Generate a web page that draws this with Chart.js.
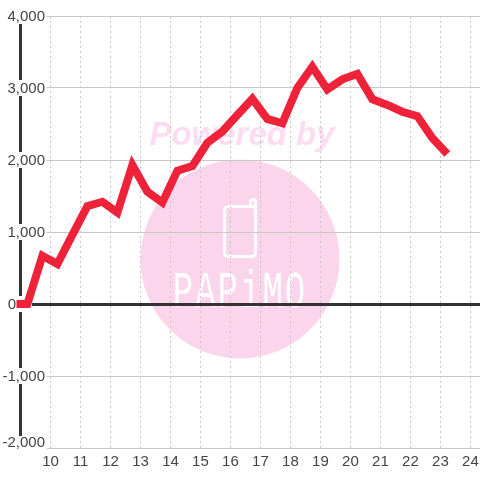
<!DOCTYPE html>
<html>
<head>
<meta charset="utf-8">
<script src="https://cdn.jsdelivr.net/npm/chart.js@4/dist/chart.umd.min.js"></script>
<style>
  html, body { margin: 0; padding: 0; background: #fff; }
  canvas { display: block; }
</style>
</head>
<body>
<canvas id="grafica" width="480" height="480"></canvas>
<script>
const years = [8.73, 9.23, 9.73, 10.23, 10.73, 11.23, 11.73, 12.23, 12.73, 13.23, 13.73, 14.23, 14.73, 15.23, 15.73, 16.23,
  16.73, 17.23, 17.73, 18.23, 18.73, 19.23, 19.73, 20.23, 20.73, 21.23, 21.73, 22.23, 22.73, 23.23];
const values = [0, 0, 670, 555, 960, 1360, 1420, 1270, 1930, 1560, 1410, 1850, 1915, 2240, 2395, 2625,
  2850, 2570, 2510, 3000, 3295, 2980, 3120, 3195, 2845, 2765, 2670, 2610, 2305, 2085];
const watermarkTop = 'Powered by';
const watermarkName = 'PAPiMO';

// watermark goes under the grid
const marca = {
  id: 'marca',
  beforeDraw(chart) {
    const c = chart.ctx;
    c.save();
    c.fillStyle = '#fbd5ec';
    c.beginPath();
    c.arc(240, 259, 99.5, 0, Math.PI * 2);
    c.fill();

    c.fillStyle = '#fcdcf0';
    c.font = 'italic bold 33px "Liberation Sans"';
    c.textAlign = 'center';
    c.textBaseline = 'alphabetic';
    c.fillText(watermarkTop, 242, 145);

    // phone
    c.strokeStyle = '#fff';
    c.lineWidth = 3;
    c.lineJoin = 'round';
    c.beginPath();
    c.roundRect(224.5, 206.5, 31, 50, 4);
    c.moveTo(250.5, 206.5);
    c.lineTo(250.5, 202);
    c.arc(253, 202, 2.5, Math.PI, 0);
    c.lineTo(255.5, 212);
    c.stroke();

    c.fillStyle = '#fff';
    c.font = '34px "Liberation Mono"';
    c.letterSpacing = '2px';
    c.textAlign = 'center';
    c.translate(240, 307);
    c.scale(1, 1.5);
    c.fillText(watermarkName, 0, 0);
    c.restore();
  }
};

// the "0" and "-2,000" labels don't sit where the others do
// backdrop coords are relative to the label's translation
const moverEtiquetas = {
  id: 'moverEtiquetas',
  beforeDraw(chart) {
    for (const it of chart.scales.y.getLabelItems()) {
      if (it.movida) continue;
      it.movida = true;
      const o = it.options;
      o.translation[1] += 1;
      o.backdrop.top -= 1;
      if (it.label === '-2,000') {
        o.translation[1] -= 6.5;
        o.backdrop.top = 436 - o.translation[1];
        o.backdrop.height = 14;
      }
      if (it.label === '0') {
        o.translation[0] = 16;
        o.backdrop.left = -16;
        o.backdrop.width = 32;
      }
    }
  }
};

const sinRelleno = s => { s.paddingLeft = 0; s.paddingRight = 0; s.paddingTop = 0; s.paddingBottom = 0; };

const ctx = document.getElementById('grafica').getContext('2d');
new Chart(ctx, {
  type: 'line',
  data: {
    datasets: [{
      data: years.map((y, i) => ({ x: y, y: values[i] })),
      borderColor: '#ee2238',
      borderWidth: 8,
      clip: 4,
      pointRadius: 0,
      tension: 0,
      fill: false
    }]
  },
  options: {
    animation: false,
    responsive: false,
    layout: { padding: { left: 20.5, right: 0, top: 16, bottom: 4 } },
    plugins: { legend: { display: false }, tooltip: { enabled: false } },
    scales: {
      x: {
        type: 'linear',
        min: 9,
        max: 24.32,
        afterFit: sinRelleno,
        border: { display: false, dash: [2, 3] },
        grid: { color: '#c8c8c8', lineWidth: 1, drawTicks: false },
        ticks: {
          stepSize: 1,
          includeBounds: false,
          autoSkip: false,
          maxRotation: 0,
          padding: 5,
          color: '#444',
          font: { family: '"Liberation Sans"', size: 15 },
          callback: v => (v >= 10 && Number.isInteger(v) ? String(v) : null)
        }
      },
      y: {
        type: 'linear',
        min: -2000,
        max: 4000,
        afterFit: s => { sinRelleno(s); s.width = 0; },
        border: { color: '#333', width: 3 },
        grid: {
          drawTicks: false,
          color: c => (c.tick.value === 0 ? '#333' : '#c8c8c8'),
          lineWidth: c => (c.tick.value === 0 ? 3 : 1)
        },
        ticks: {
          stepSize: 500,
          mirror: true,
          crossAlign: 'far',
          padding: -18,
          color: '#444',
          font: { family: '"Liberation Sans"', size: 15, lineHeight: 1.07 },
          showLabelBackdrop: true,
          backdropColor: '#fff',
          backdropPadding: { left: 1, right: 2, top: 0, bottom: 0 },
          callback: v => (v % 1000 === 0 ? v.toLocaleString('en-US') : null)
        }
      }
    }
  },
  plugins: [marca, moverEtiquetas]
});
</script>
</body>
</html>
